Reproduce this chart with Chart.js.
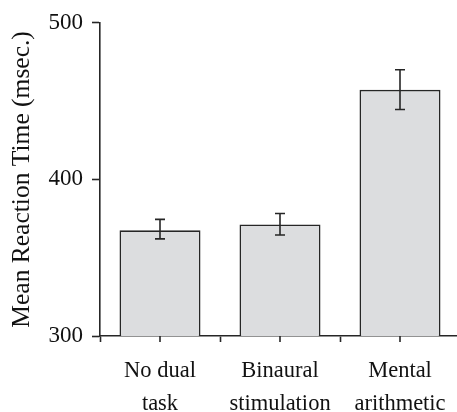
<!DOCTYPE html>
<html>
<head>
<meta charset="utf-8">
<script src="https://cdn.jsdelivr.net/npm/chart.js@4"></script>
<style>
  html, body { margin: 0; padding: 0; background: #fff; overflow: hidden; }
  #wrap { width: 460px; height: 412px; }
</style>
</head>
<body>
<div id="wrap"><canvas id="rtChart" width="460" height="412"></canvas></div>
<script>
// Reaction time by condition
const categories = [['No dual', 'task'], ['Binaural', 'stimulation'], ['Mental', 'arithmetic']];
const meanRT = [367.5, 371.2, 457.2];
const errLow = [362.0, 364.5, 444.6];
const errHigh = [374.5, 378.2, 470.0];
const yTicks = [300, 400, 500];

const ink = '#262626';
const serif = "'Liberation Serif', 'Times New Roman', serif";

// error bars + tick marks at bar centres
const errorBarPlugin = {
    id: 'errorBars',
    afterDatasetsDraw(chart) {
        const ctx = chart.ctx;
        const y = chart.scales.y;
        const meta = chart.getDatasetMeta(0);
        ctx.save();
        ctx.strokeStyle = ink;
        ctx.lineWidth = 1.6;
        meta.data.forEach((bar, i) => {
            const top = y.getPixelForValue(errHigh[i]);
            const bot = y.getPixelForValue(errLow[i]);
            ctx.beginPath();
            ctx.moveTo(bar.x, top); ctx.lineTo(bar.x, bot);
            ctx.moveTo(bar.x - 5, top); ctx.lineTo(bar.x + 5, top);
            ctx.moveTo(bar.x - 5, bot); ctx.lineTo(bar.x + 5, bot);
            ctx.stroke();
        });
        ctx.restore();
    },
    afterDraw(chart) {
        const ctx = chart.ctx;
        const x = chart.scales.x;
        const bottom = chart.chartArea.bottom;
        ctx.save();
        ctx.strokeStyle = ink;
        ctx.lineWidth = 1.6;
        categories.forEach((c, i) => {
            const px = x.getPixelForValue(i);
            ctx.beginPath();
            ctx.moveTo(px, bottom);
            ctx.lineTo(px, bottom + 6);
            ctx.stroke();
        });
        ctx.restore();
    }
};

new Chart(document.getElementById('rtChart'), {
    type: 'bar',
    data: {
        labels: categories,
        datasets: [{
            data: meanRT,
            backgroundColor: '#dcdddf',
            borderColor: ink,
            borderWidth: 1.6,
            barPercentage: 0.9,
            categoryPercentage: 0.75
        }]
    },
    options: {
        responsive: false,
        animation: false,
        layout: { padding: { top: 22, right: 0, bottom: 0, left: 0 } },
        plugins: {
            legend: { display: false },
            tooltip: { enabled: false }
        },
        scales: {
            x: {
                grid: {
                    offset: true,
                    drawOnChartArea: false,
                    tickLength: 6,
                    tickWidth: 1.6,
                    tickColor: ink
                },
                border: { display: true, color: ink, width: 1.6 },
                ticks: {
                    color: '#111',
                    font: { family: serif, size: 22.5, lineHeight: 1.44 },
                    padding: 13,
                    maxRotation: 0,
                    autoSkip: false
                },
                afterFit: (scale) => { scale.height = 76; }
            },
            y: {
                min: 300,
                max: 500,
                afterBuildTicks: (scale) => { scale.ticks = yTicks.map(v => ({ value: v })); },
                grid: {
                    drawOnChartArea: false,
                    tickLength: 8,
                    tickWidth: 1.6,
                    tickColor: ink
                },
                border: { display: true, color: ink, width: 1.6 },
                ticks: {
                    color: '#111',
                    font: { family: serif, size: 23 },
                    padding: 9
                },
                title: {
                    display: true,
                    text: 'Mean Reaction Time (msec.)',
                    color: '#111',
                    font: { family: serif, size: 25.5 },
                    padding: { top: 7, bottom: 0 }
                },
                afterFit: (scale) => { scale.width = 100; }
            }
        }
    },
    plugins: [errorBarPlugin]
});
</script>
</body>
</html>
